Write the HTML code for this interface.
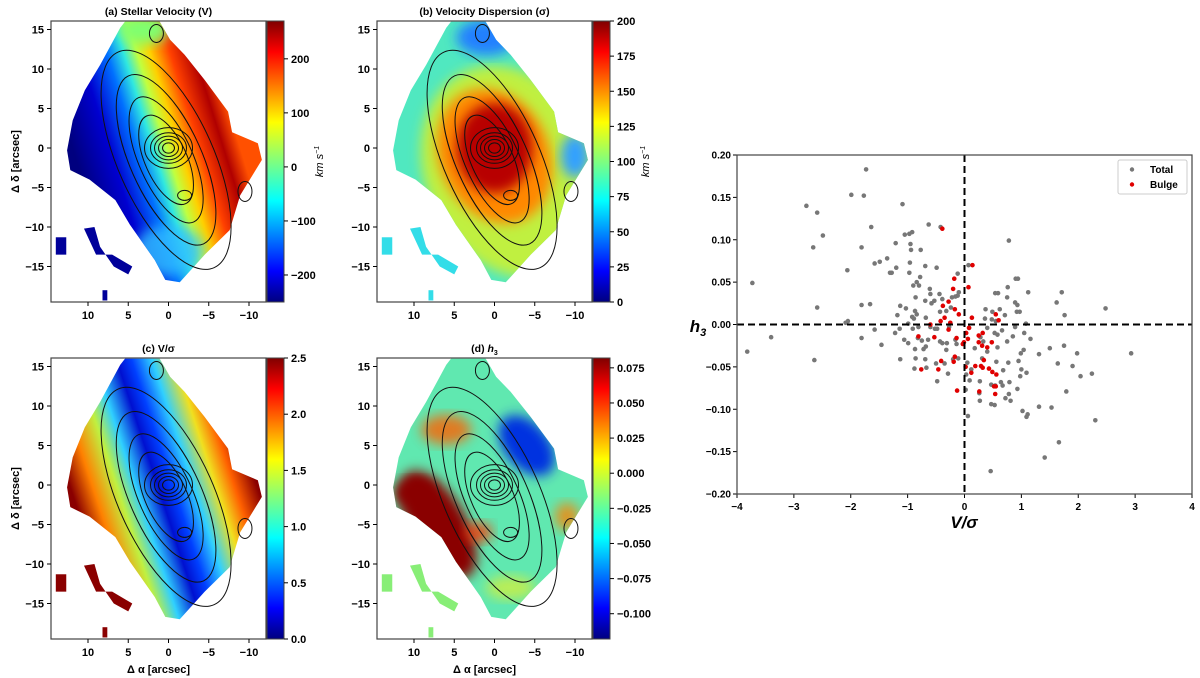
<!DOCTYPE html>
<html><head><meta charset="utf-8"><style>
html,body{margin:0;padding:0;background:#fff;}
svg{display:block;font-family:"Liberation Sans",sans-serif;}
</style></head><body>
<svg id="fig" width="1200" height="678" viewBox="0 0 1200 678" xmlns="http://www.w3.org/2000/svg">
<defs>
<linearGradient id="jet" x1="0" y1="1" x2="0" y2="0">
<stop offset="0" stop-color="#00007f"/><stop offset="0.11" stop-color="#0000ff"/><stop offset="0.36" stop-color="#00ffff"/><stop offset="0.5" stop-color="#7fff7f"/><stop offset="0.64" stop-color="#ffff00"/><stop offset="0.89" stop-color="#ff0000"/><stop offset="1" stop-color="#7f0000"/>
</linearGradient>
<filter id="blur" x="-20%" y="-20%" width="140%" height="140%"><feGaussianBlur stdDeviation="6"/></filter>
</defs>
<g id="maps"></g>
<g id="scatter"></g>
</svg>
<script>
const NS="http://www.w3.org/2000/svg";
function mk(parent,tag,attrs,txt){const e=document.createElementNS(NS,tag);for(const k in attrs)e.setAttribute(k,attrs[k]);if(txt!==undefined)e.textContent=txt;parent.appendChild(e);return e;}
const svg=document.getElementById('fig');
const defs=svg.querySelector('defs');

// ---------- Scatter data ----------
const totalVS=[-1.73,-1.99,-1.77,-2.78,-2.59,-1.09,-2.49,-2.66,-1.64,-0.63,-0.42,-1.81,-1.05,-0.97,-0.92,-1.21,-0.95,-0.94,-0.77,0.78,-1.36,-1.49,-1.58,-0.96,-0.69,-0.49,-1.20,-1.31,-1.28,-0.97,-2.06,-3.73,-0.78,-0.12,0.07,-0.84,-0.90,-0.80,-0.61,-0.10,-0.12,-0.16,-0.22,0.76,0.90,0.94,1.12,1.71,0.54,0.59,1.62,0.75,-0.86,-0.60,-0.44,-0.39,-0.69,-0.53,-0.58,-1.81,-1.66,-2.59,-1.13,-1.03,-0.87,-0.84,-1.18,-0.92,-0.89,-0.68,-0.32,-0.24,-0.43,0.37,0.49,0.62,0.89,0.93,0.92,0.97,0.71,1.76,2.48,0.36,0.48,0.55,1.08,-2.09,-2.05,-0.99,-0.81,-0.91,-0.60,-0.52,-0.48,-0.27,0.08,0.40,0.66,0.89,-1.58,-1.22,-1.14,-3.40,-1.81,-1.06,-0.99,-0.82,-0.75,-0.64,-0.43,-0.39,-0.31,-0.16,-0.14,0.28,0.33,0.53,0.58,0.75,0.85,1.05,1.16,-1.46,-0.87,-0.68,-0.72,-0.32,0.18,0.40,0.58,0.99,1.04,1.31,1.50,1.75,1.98,2.93,-3.82,-1.13,-0.86,-0.69,-0.50,-0.35,-0.20,-0.11,0.05,0.31,0.56,0.77,0.95,-2.64,-0.88,-0.67,0.12,0.68,1.00,1.09,0.98,1.64,1.90,2.04,2.24,-0.29,0.03,0.09,0.27,0.64,0.79,-0.48,0.47,0.54,0.67,0.93,0.02,0.26,0.78,0.72,0.27,0.81,1.79,0.47,0.53,1.31,1.53,1.02,1.11,1.09,0.06,2.30,1.66,1.41,0.46];
const totalH3=[0.183,0.153,0.152,0.140,0.132,0.142,0.105,0.091,0.115,0.118,0.115,0.091,0.106,0.107,0.109,0.096,0.095,0.088,0.088,0.099,0.078,0.074,0.072,0.073,0.069,0.067,0.067,0.061,0.061,0.061,0.064,0.049,0.056,0.060,0.070,0.050,0.046,0.046,0.042,0.038,0.034,0.033,0.032,0.044,0.054,0.054,0.038,0.038,0.037,0.037,0.026,0.032,0.032,0.036,0.036,0.030,0.028,0.028,0.025,0.023,0.024,0.020,0.022,0.019,0.016,0.012,0.011,0.009,0.007,0.008,0.016,0.020,0.015,0.018,0.015,0.018,0.026,0.023,0.015,0.015,0.011,0.011,0.019,0.007,0.006,0.004,0.001,0.002,0.004,0.001,-0.003,-0.005,-0.003,-0.005,-0.005,-0.003,-0.004,-0.004,-0.007,-0.003,-0.006,-0.010,-0.005,-0.015,-0.016,-0.018,-0.022,-0.016,-0.019,-0.018,-0.020,-0.022,-0.022,-0.018,-0.023,-0.015,-0.020,-0.010,-0.012,-0.020,-0.014,-0.010,-0.017,-0.024,-0.029,-0.026,-0.029,-0.030,-0.028,-0.032,-0.027,-0.034,-0.030,-0.035,-0.028,-0.025,-0.034,-0.034,-0.032,-0.041,-0.040,-0.041,-0.046,-0.046,-0.041,-0.040,-0.045,-0.040,-0.044,-0.045,-0.043,-0.042,-0.052,-0.051,-0.053,-0.054,-0.053,-0.057,-0.061,-0.046,-0.049,-0.061,-0.058,-0.058,-0.059,-0.066,-0.067,-0.068,-0.068,-0.067,-0.071,-0.072,-0.072,-0.076,-0.077,-0.081,-0.082,-0.087,-0.090,-0.090,-0.079,-0.094,-0.095,-0.097,-0.098,-0.102,-0.106,-0.109,-0.108,-0.113,-0.139,-0.157,-0.173];
const bulgeVS=[-0.39,0.14,-0.18,0.07,-0.20,-0.38,-0.28,-0.17,-0.10,-0.35,0.13,0.55,0.60,-0.42,-0.25,-0.60,0.08,-0.28,0.03,0.25,0.32,-0.53,-0.81,-0.14,0.06,0.25,0.48,-0.01,0.31,0.40,-0.03,0.34,-0.17,-0.19,-0.41,0.19,0.29,0.32,0.43,0.49,0.56,0.02,-0.76,-0.46,0.12,0.52,0.55,-0.13,0.26,0.54];
const bulgeH3=[0.113,0.070,0.054,0.044,0.042,0.022,0.027,0.018,0.012,0.008,0.008,0.012,0.005,0.004,0.002,0.000,-0.004,-0.006,-0.010,-0.013,-0.010,-0.015,-0.014,-0.016,-0.017,-0.021,-0.021,-0.021,-0.025,-0.027,-0.023,-0.042,-0.038,-0.044,-0.043,-0.049,-0.049,-0.051,-0.052,-0.056,-0.059,-0.050,-0.053,-0.053,-0.057,-0.073,-0.073,-0.078,-0.079,-0.082];
const xTicks=[-4,-3,-2,-1,0,1,2,3,4];
const yTicks=[0.20,0.15,0.10,0.05,0.00,-0.05,-0.10,-0.15,-0.20];

// ---------- Scatter ----------
(function(){
const g=document.getElementById('scatter');
const L=737,R=1192,T=155,B=494;
const sx=v=>L+(v+4)/8*(R-L);
const sy=v=>B-(v+0.2)/0.4*(B-T);
const fmt=v=>(v<0?'\u2212':'')+Math.abs(v).toFixed(2);
xTicks.forEach(t=>{
 mk(g,'line',{x1:sx(t),x2:sx(t),y1:B,y2:B+4,stroke:'#000','stroke-width':1});
 const tx=mk(g,'text',{x:sx(t),y:B+16,'text-anchor':'middle','font-size':10,'font-weight':'bold'},(t<0?'\u2212':'')+Math.abs(t));
 
 
});
yTicks.forEach(t=>{
 mk(g,'line',{x1:L-4,x2:L,y1:sy(t),y2:sy(t),stroke:'#000','stroke-width':1});
 const ty=mk(g,'text',{x:L-6,y:sy(t)+3.5,'text-anchor':'end','font-size':10,'font-weight':'bold'},fmt(t));
 
 
});
totalVS.forEach((v,i)=>{
 const c=mk(g,'circle',{cx:sx(v),cy:sy(totalH3[i]),r:2.3,fill:'#777'});
 
 
});
bulgeVS.forEach((v,i)=>{
 const c=mk(g,'circle',{cx:sx(v),cy:sy(bulgeH3[i]),r:2.3,fill:'#e00000'});
 
 
});
const h=mk(g,'line',{x1:L,x2:R,y1:sy(0),y2:sy(0),stroke:'#000','stroke-width':2,'stroke-dasharray':'7,4'});


const vl=mk(g,'line',{x1:sx(0),x2:sx(0),y1:T,y2:B,stroke:'#000','stroke-width':2,'stroke-dasharray':'7,4'});


const fr=mk(g,'rect',{x:L,y:T,width:R-L,height:B-T,fill:'none',stroke:'#444','stroke-width':1.2});


const lg=mk(g,'g',{});


mk(lg,'rect',{x:1118,y:160,width:69,height:34,rx:2,fill:'#fff',stroke:'#ccc'});
mk(lg,'circle',{cx:1132,cy:169.5,r:2.2,fill:'#777'});
mk(lg,'text',{x:1150,y:173,'font-size':10,'font-weight':'bold'},'Total');
mk(lg,'circle',{cx:1132,cy:184.5,r:2.2,fill:'#e00000'});
mk(lg,'text',{x:1150,y:188,'font-size':10,'font-weight':'bold'},'Bulge');
const xl=mk(g,'text',{x:964,y:528,'text-anchor':'middle','font-size':17,'font-weight':'bold','font-style':'italic'},'V/\u03c3');


const yl=mk(g,'text',{x:698,y:332,'text-anchor':'middle','font-size':17,'font-weight':'bold','font-style':'italic'});


yl.innerHTML='h<tspan font-size="11" dy="4">3</tspan>';
})();

// ---------- Maps ----------
const outline=[[5.4,16],[1.1,16],[-0.2,13.7],[-2,11.8],[-4.5,8.6],[-7.4,4.6],[-7.9,2],[-11.1,0.6],[-11.6,-1.5],[-8.9,-6],[-7.6,-10.4],[-4.5,-13.5],[-1.4,-17],[0.4,-16.7],[1.7,-14.2],[4.8,-9.7],[6.6,-6.6],[9.8,-4],[12.2,-2.8],[12.6,-0.3],[11.9,3.5],[10.4,7.3],[8.5,10.5],[6,15.2]];
const islands=[[[14,-11.3],[12.7,-11.3],[12.7,-13.5],[14,-13.5]],[[10.5,-10.2],[9.2,-10],[8.5,-12.5],[6.8,-15],[5,-16],[4.5,-15],[7,-13.5],[9,-13.5]],[[8.2,-18],[7.6,-18],[7.6,-19.3],[8.2,-19.3]]];
const panels=[
 {id:'a',title:'(a) Stellar Velocity (V)',ox:51,oy:21,cbx:267,ticks:[200,100,0,-100,-200],lo:-250,hi:270,fmt:v=>(v<0?'\u2212':'')+Math.abs(v),unit:true,isl:'#00009a',ylab:true,xlab:false},
 {id:'b',title:'(b) Velocity Dispersion (\u03c3)',ox:377,oy:21,cbx:593,ticks:[0,25,50,75,100,125,150,175,200],lo:0,hi:200,fmt:v=>''+v,unit:true,isl:'#33dde8',ylab:false,xlab:false},
 {id:'c',title:'(c) V/\u03c3',ox:51,oy:358,cbx:267,ticks:[0,0.5,1,1.5,2,2.5],lo:0,hi:2.5,fmt:v=>v.toFixed(1),unit:false,isl:'#8a0000',ylab:true,xlab:true},
 {id:'d',title:'(d) h3',ox:377,oy:358,cbx:593,ticks:[0.075,0.05,0.025,0,-0.025,-0.05,-0.075,-0.1],lo:-0.118,hi:0.082,fmt:v=>(v<0?'\u2212':'')+Math.abs(v).toFixed(3),unit:false,isl:'#88ee77',ylab:false,xlab:true}
];
const W=215,H=281;
const mapsG=document.getElementById('maps');
panels.forEach(p=>{
 const g=mk(mapsG,'g',{});
 
 
 const X=x=>p.ox+117.5-8.05*x, Y=y=>p.oy+127-7.9*y;
 const pts=outline.map(q=>X(q[0])+','+Y(q[1])).join(' ');
 const cp=mk(defs,'clipPath',{id:'clip'+p.id});
 mk(cp,'polygon',{points:pts});
 const bg=mk(g,'g',{'clip-path':'url(#clip'+p.id+')'});
 if(p.id==='a'){
  const lg=mk(defs,'linearGradient',{id:'ga',gradientUnits:'userSpaceOnUse',x1:X(11),y1:Y(-3),x2:X(-8),y2:Y(3)});
  [[0,'#00007f'],[0.22,'#0000d0'],[0.38,'#0070ff'],[0.48,'#30e8e0'],[0.56,'#c0ff40'],[0.64,'#ffd000'],[0.76,'#ff4000'],[0.9,'#b00000'],[1,'#ff5000']].forEach(s=>mk(lg,'stop',{offset:s[0],'stop-color':s[1]}));
  mk(bg,'rect',{x:p.ox,y:p.oy,width:W,height:H,fill:'url(#ga)'});
  mk(bg,'ellipse',{cx:X(0),cy:Y(-13),rx:35,ry:25,fill:'#30c0ff',filter:'url(#blur)',opacity:0.8});
  mk(bg,'ellipse',{cx:X(3),cy:Y(15),rx:25,ry:15,fill:'#80ff70',filter:'url(#blur)'});
 } else if(p.id==='b'){
  mk(bg,'rect',{x:p.ox,y:p.oy,width:W,height:H,fill:'#50e8c0'});
  mk(bg,'ellipse',{cx:X(-2),cy:Y(-3),rx:85,ry:110,fill:'#c0f040',filter:'url(#blur)',transform:'rotate(-25 '+X(-2)+' '+Y(-3)+')'});
  mk(bg,'ellipse',{cx:X(0),cy:Y(-1),rx:55,ry:70,fill:'#ff8800',filter:'url(#blur)',transform:'rotate(-25 '+X(0)+' '+Y(-1)+')'});
  mk(bg,'ellipse',{cx:X(0),cy:Y(0),rx:38,ry:45,fill:'#b80000',filter:'url(#blur)'});
  mk(bg,'ellipse',{cx:X(1),cy:Y(14),rx:30,ry:18,fill:'#2080ff',filter:'url(#blur)'});
  mk(bg,'ellipse',{cx:X(-10),cy:Y(-1),rx:14,ry:22,fill:'#30a0ff',filter:'url(#blur)'});
 } else if(p.id==='c'){
  const lg=mk(defs,'linearGradient',{id:'gc',gradientUnits:'userSpaceOnUse',x1:X(11),y1:Y(-4),x2:X(-10),y2:Y(3)});
  [[0,'#8a0000'],[0.12,'#ff8000'],[0.25,'#c0f040'],[0.35,'#30d0ff'],[0.47,'#0010d0'],[0.55,'#0040ff'],[0.66,'#30d0ff'],[0.78,'#f0e020'],[0.88,'#ff6000'],[1,'#8a0000']].forEach(s=>mk(lg,'stop',{offset:s[0],'stop-color':s[1]}));
  mk(bg,'rect',{x:p.ox,y:p.oy,width:W,height:H,fill:'url(#gc)'});
 } else {
  mk(bg,'rect',{x:p.ox,y:p.oy,width:W,height:H,fill:'#60e8b0'});
  mk(bg,'ellipse',{cx:X(7),cy:Y(-5),rx:28,ry:60,fill:'#8a0000',filter:'url(#blur)',transform:'rotate(-30 '+X(7)+' '+Y(-5)+')'});
  mk(bg,'ellipse',{cx:X(10),cy:Y(-1),rx:20,ry:14,fill:'#8a0000',filter:'url(#blur)'});
  mk(bg,'ellipse',{cx:X(-4),cy:Y(5),rx:22,ry:35,fill:'#0030e0',filter:'url(#blur)',transform:'rotate(-40 '+X(-4)+' '+Y(5)+')'});
  mk(bg,'ellipse',{cx:X(6),cy:Y(7),rx:25,ry:15,fill:'#ff6000',filter:'url(#blur)',opacity:0.8});
  mk(bg,'ellipse',{cx:X(-2),cy:Y(-13),rx:25,ry:12,fill:'#e0f030',filter:'url(#blur)',opacity:0.7});
  mk(bg,'ellipse',{cx:X(-9),cy:Y(-4),rx:12,ry:14,fill:'#ff8000',filter:'url(#blur)',opacity:0.8});
  mk(bg,'ellipse',{cx:X(2),cy:Y(-6),rx:14,ry:10,fill:'#ff3000',filter:'url(#blur)',opacity:0.8});
 }
 islands.forEach(is=>mk(g,'polygon',{points:is.map(q=>X(q[0])+','+Y(q[1])).join(' '),fill:p.isl}));
 const cg=mk(g,'g',{fill:'none',stroke:'#111','stroke-width':1});
 
 
 const cx=X(0.3),cy=Y(-1.5);
 [[118,48],[92,36],[68,27],[48,21]].forEach(r=>mk(cg,'ellipse',{cx:cx,cy:cy,rx:r[0],ry:r[1],transform:'rotate(66 '+cx+' '+cy+')'}));
 [6,10,14,18,24].forEach(r=>mk(cg,'ellipse',{cx:X(0),cy:Y(0),rx:r,ry:r*0.85}));
 mk(cg,'ellipse',{cx:X(1.5),cy:Y(14.5),rx:7,ry:9});
 mk(cg,'ellipse',{cx:X(-2),cy:Y(-6),rx:7,ry:5});
 mk(cg,'ellipse',{cx:X(-9.5),cy:Y(-5.5),rx:7,ry:10});
 mk(g,'rect',{x:p.ox,y:p.oy,width:W,height:H,fill:'none',stroke:'#444','stroke-width':1.2});
 [10,5,0,-5,-10].forEach(t=>{
  mk(g,'line',{x1:X(t),x2:X(t),y1:p.oy+H,y2:p.oy+H+4,stroke:'#000'});
  mk(g,'text',{x:X(t),y:p.oy+H+17,'text-anchor':'middle','font-size':11,'font-weight':'bold'},(t<0?'\u2212':'')+Math.abs(t));
 });
 [15,10,5,0,-5,-10,-15].forEach(t=>{
  mk(g,'line',{x1:p.ox-4,x2:p.ox,y1:Y(t),y2:Y(t),stroke:'#000'});
  mk(g,'text',{x:p.ox-7,y:Y(t)+4,'text-anchor':'end','font-size':11,'font-weight':'bold'},(t<0?'\u2212':'')+Math.abs(t));
 });
 const tt=mk(g,'text',{x:p.ox+W/2,y:p.oy-6,'text-anchor':'middle','font-size':10.5,'font-weight':'bold'});
 
 
 if(p.id==='d'){tt.innerHTML='(d) <tspan font-style="italic">h</tspan><tspan font-size="7" dy="3">3</tspan>';}else{tt.textContent=p.title;}
 if(p.ylab){
  const yl=mk(g,'text',{x:p.ox-32,y:p.oy+H/2,'text-anchor':'middle','font-size':11,'font-weight':'bold',transform:'rotate(-90 '+(p.ox-32)+' '+(p.oy+H/2)+')'},'\u0394 \u03b4 [arcsec]');
  
  
 }
 if(p.xlab){
  const xl=mk(g,'text',{x:p.ox+W/2,y:p.oy+H+34,'text-anchor':'middle','font-size':11,'font-weight':'bold'},'\u0394 \u03b1 [arcsec]');
  
  
 }
 const cb=mk(g,'g',{});
 
 
 mk(cb,'rect',{x:p.cbx,y:p.oy,width:17,height:H,fill:'url(#jet)',stroke:'#444','stroke-width':1});
 p.ticks.forEach(t=>{
  const yy=p.oy+H-(t-p.lo)/(p.hi-p.lo)*H;
  mk(cb,'line',{x1:p.cbx+17,x2:p.cbx+21,y1:yy,y2:yy,stroke:'#000'});
  mk(cb,'text',{x:p.cbx+24,y:yy+4,'font-size':11,'font-weight':'bold'},p.fmt(t));
 });
 if(p.unit){
  const ux=p.cbx+56, uy=p.oy+H/2;
  const u=mk(cb,'text',{x:ux,y:uy,'text-anchor':'middle','font-size':11,'font-style':'italic',transform:'rotate(-90 '+ux+' '+uy+')'});
  u.innerHTML='km s<tspan font-size="7" dy="-4">\u22121</tspan>';
 }
});
</script>
</body></html>
